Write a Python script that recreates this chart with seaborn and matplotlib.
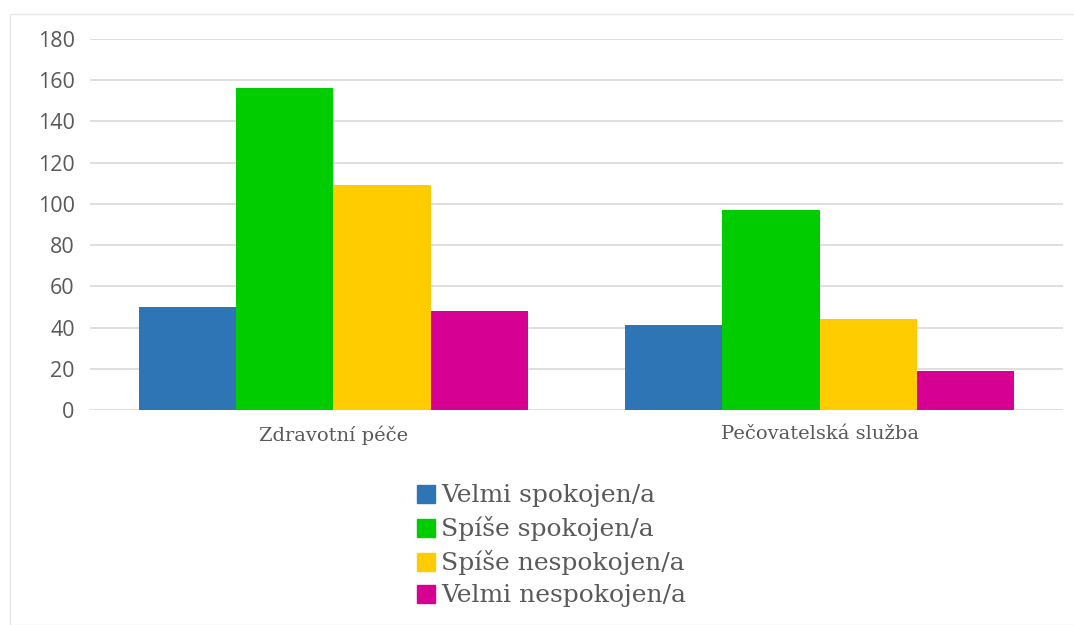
import matplotlib
matplotlib.use("Agg")
import matplotlib.pyplot as plt
import seaborn as sns
import pandas as pd
from matplotlib.patches import Rectangle

categories = ["Zdravotní péče", "Pečovatelská služba"]
series = ["Velmi spokojen/a", "Spíše spokojen/a", "Spíše nespokojen/a", "Velmi nespokojen/a"]
values_zdrav = [50, 156, 109, 48]
values_pec = [41, 97, 44, 19]
colors = ["#2E75B6", "#00CC00", "#FFCC00", "#D60093"]

rows = []
for s, a, b in zip(series, values_zdrav, values_pec):
    rows.append({"kat": categories[0], "serie": s, "hodnota": a})
    rows.append({"kat": categories[1], "serie": s, "hodnota": b})
df = pd.DataFrame(rows)

sns.set_theme(style="white")
fig = plt.figure(figsize=(10.74, 6.25), dpi=100)
ax = fig.add_axes([0.0838, 0.344, 0.906, 0.5936])

sns.barplot(data=df, x="kat", y="hodnota", hue="serie", order=categories,
            hue_order=series, palette=colors, width=0.8, saturation=1,
            edgecolor="none", linewidth=0, ax=ax, zorder=3)

ax.set_ylim(0, 180)
ax.set_yticks(range(0, 181, 20))
ax.set_xlim(-0.5, 1.5)
ax.yaxis.grid(True, color="#d9d9d9", linewidth=1.2, zorder=0)
ax.set_axisbelow(True)
for sp in ax.spines.values():
    sp.set_visible(False)
ax.set_xlabel("")
ax.set_ylabel("")
ax.tick_params(axis="both", length=0)
ax.tick_params(axis="y", pad=11)
ax.tick_params(axis="x", pad=11)
for t in ax.get_yticklabels():
    t.set_fontfamily("Open Sans")
    t.set_fontsize(15.5)
    t.set_color("#595959")
for t in ax.get_xticklabels():
    t.set_fontfamily("DejaVu Serif")
    t.set_fontsize(14)
    t.set_color("#595959")

ax.get_legend().remove()
handles = [Rectangle((0, 0), 1, 1, color=c) for c in colors]
leg = fig.legend(handles, series, loc="upper left", bbox_to_anchor=(0.377, 0.245),
                 frameon=False, ncol=1, handlelength=0.72, handleheight=0.72,
                 handletextpad=0.22, labelspacing=0.36, borderpad=0,
                 prop={"family": "DejaVu Serif", "size": 18})
for t in leg.get_texts():
    t.set_color("#595959")

fig.patches.append(Rectangle((10 / 1074, 0), 1.1, 1 - 14 / 625, transform=fig.transFigure,
                             fill=False, edgecolor="#e6e6e6", linewidth=1))

fig.savefig("out.png", dpi=100)
